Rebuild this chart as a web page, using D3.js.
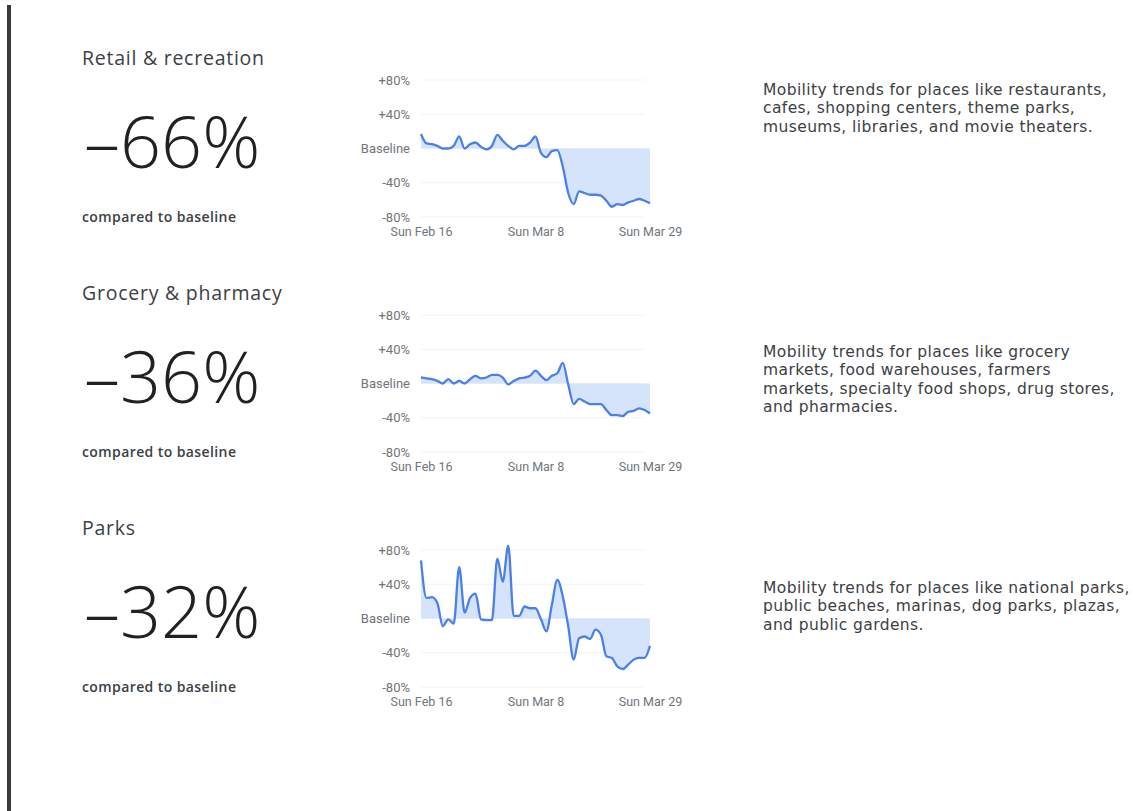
<!DOCTYPE html>
<html>
<head>
<meta charset="utf-8">
<script src="https://cdn.jsdelivr.net/npm/d3@7"></script>
<style>
  body { margin: 0; background: #fff; }
  svg { display: block; }
</style>
</head>
<body>
<div id="chart"></div>
<script>
// categories
const categories = ["Retail & recreation", "Grocery & pharmacy", "Parks"];
const headlineValues = ["-66%", "-36%", "-32%"];
const descriptions = [
  ["Mobility trends for places like restaurants,", "cafes, shopping centers, theme parks,", "museums, libraries, and movie theaters."],
  ["Mobility trends for places like grocery", "markets, food warehouses, farmers", "markets, specialty food shops, drug stores,", "and pharmacies."],
  ["Mobility trends for places like national parks,", "public beaches, marinas, dog parks, plazas,", "and public gardens."]
];

// daily % change vs baseline, Sun Feb 16 .. Sun Mar 29
const retailValues = [17, 6, 5, 3, 0, 0, 3, 14, 0, 5, 7, 2, -1, 3, 16, 9, 3, -1, 3, 3, 7, 14,
  -5, -10, -3, -2, -21, -52, -65, -50, -52, -54, -54, -55, -61, -68, -65, -66, -63, -61, -59, -61, -64];
const groceryValues = [7, 6, 5, 3, 0, 5, 0, 3, 0, 5, 9, 6, 7, 10, 10, 7, -1, 3, 6, 7, 9, 15,
  9, 4, 9, 12, 24, -1, -24, -18, -21, -24, -24, -24, -31, -37, -37, -38, -33, -32, -29, -31, -35];
const parksValues = [68, 24, 25, 18, -9, -1, -6, 60, 7, 24, 29, -1, -2, -2, 70, 43, 85, 3, 3, 14, 12, 12,
  -1, -15, 16, 45, 26, -9, -48, -23, -21, -24, -13, -19, -44, -46, -56, -59, -54, -48, -46, -46, -32];
const seriesValues = [retailValues, groceryValues, parksValues];

// tick labels
const yTickValues = [80, 40, 0, -40, -80];
const yTickLabels = ["+80%", "+40%", "Baseline", "-40%", "-80%"];
const xTickDates = [new Date(2020, 1, 16), new Date(2020, 2, 8), new Date(2020, 2, 29)];
const xTickLabels = ["Sun Feb 16", "Sun Mar 8", "Sun Mar 29"];

const dates = d3.timeDay.range(new Date(2020, 1, 16), new Date(2020, 2, 30));

const config = {
  width: 1133,
  height: 811,
  rowStep: 235,
  plotLeft: 421,
  plotRight: 650,
  plotTop: 80,
  plotBottom: 217,
  descTop: [95, 122, 123],
  lineColor: "#4a80e8",
  fillColor: "#d6e4fb",
  gridColor: "#f1f3f4",
  textColor: "#3c4043",
  tickColor: "#70757a"
};

const svg = d3.select("#chart")
  .append("svg")
  .attr("width", config.width)
  .attr("height", config.height);

// left edge bar
svg.append("rect")
  .attr("x", 7)
  .attr("y", 5)
  .attr("width", 4)
  .attr("height", config.height - 5)
  .attr("fill", "#3a3a3a");

const scaleX = d3.scaleTime()
  .domain(d3.extent(dates))
  .range([config.plotLeft, config.plotRight]);

categories.forEach((cat, k) => {
  const oy = k * config.rowStep;
  const g = svg.append("g").attr("transform", `translate(0, ${oy})`);

  // left texts
  g.append("text")
    .attr("x", 82)
    .attr("y", 65)
    .style("font-family", "'Open Sans', sans-serif")
    .style("font-size", "19.5px")
    .style("letter-spacing", "0.75px")
    .style("fill", config.textColor)
    .text(cat);

  g.append("text")
    .attr("x", 84)
    .attr("y", 168)
    .style("font-family", "'Open Sans', sans-serif")
    .style("font-weight", 300)
    .style("font-size", "72px")
    .style("fill", "#202124")
    .text(headlineValues[k].replace("-", "\u2013"));

  g.append("text")
    .attr("x", 82)
    .attr("y", 222)
    .style("font-family", "'Open Sans', sans-serif")
    .style("font-weight", 600)
    .style("font-size", "14px")
    .style("letter-spacing", "0.4px")
    .style("fill", config.textColor)
    .text("compared to baseline");

  // chart
  const scaleY = d3.scaleLinear()
    .domain([-80, 80])
    .range([config.plotBottom, config.plotTop]);

  g.selectAll(".grid")
    .data(yTickValues)
    .join("line")
    .attr("class", "grid")
    .attr("x1", config.plotLeft)
    .attr("x2", config.plotRight - 5)
    .attr("y1", d => scaleY(d))
    .attr("y2", d => scaleY(d))
    .attr("stroke", config.gridColor)
    .attr("stroke-width", 1);

  const data = seriesValues[k].map((v, i) => ({ date: dates[i], value: v }));

  const area = d3.area()
    .x(d => scaleX(d.date))
    .y0(scaleY(0))
    .y1(d => scaleY(d.value))
    .curve(d3.curveMonotoneX);

  const line = d3.line()
    .x(d => scaleX(d.date))
    .y(d => scaleY(d.value))
    .curve(d3.curveMonotoneX);

  g.append("path")
    .datum(data)
    .attr("d", area)
    .attr("fill", config.fillColor);

  g.append("path")
    .datum(data)
    .attr("d", line)
    .attr("fill", "none")
    .attr("stroke", config.lineColor)
    .attr("stroke-width", 2.3)
    .attr("stroke-linejoin", "round");

  const axisY = d3.axisLeft(scaleY)
    .tickValues(yTickValues)
    .tickSize(0)
    .tickPadding(0)
    .tickFormat((d, i) => yTickLabels[i]);

  g.append("g")
    .attr("transform", `translate(410, 0)`)
    .call(axisY)
    .call(a => a.select(".domain").remove())
    .selectAll("text")
    .style("font-family", "Roboto, sans-serif")
    .style("font-size", "13px")
    .style("fill", config.tickColor);

  const axisX = d3.axisBottom(scaleX)
    .tickValues(xTickDates)
    .tickSize(0)
    .tickPadding(0)
    .tickFormat((d, i) => xTickLabels[i]);

  g.append("g")
    .attr("transform", `translate(0, ${config.plotBottom + 10})`)
    .call(axisX)
    .call(a => a.select(".domain").remove())
    .selectAll("text")
    .style("font-family", "Roboto, sans-serif")
    .style("font-size", "12.5px")
    .style("fill", config.tickColor);

  // description
  g.append("text")
    .attr("x", 763)
    .attr("y", config.descTop[k])
    .style("font-family", "'DejaVu Sans', sans-serif")
    .style("font-size", "15.5px")
    .style("letter-spacing", "0.4px")
    .style("fill", config.textColor)
    .selectAll("tspan")
    .data(descriptions[k])
    .join("tspan")
    .attr("x", 763)
    .attr("dy", (d, i) => i === 0 ? 0 : 18.3)
    .text(d => d);
});
</script>
</body>
</html>
